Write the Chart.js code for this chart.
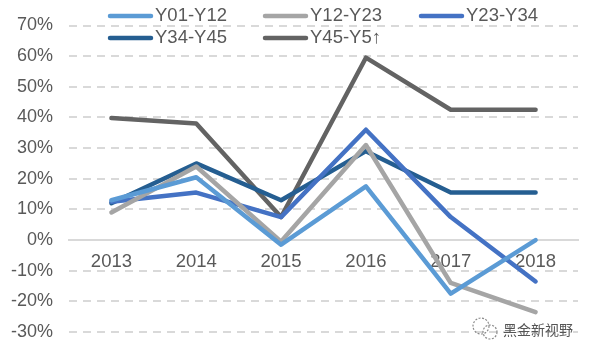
<!DOCTYPE html>
<html>
<head>
<meta charset="utf-8">
<style>
  html, body { margin: 0; padding: 0; background: #fff; }
  #wrap { width: 591px; height: 355px; }
</style>
<script src="https://cdn.jsdelivr.net/npm/chart.js@4/dist/chart.umd.js"></script>
</head>
<body>
<div id="wrap"><canvas id="chart" width="591" height="355"></canvas></div>
<script>
// Data
const years = ['2013', '2014', '2015', '2016', '2017', '2018'];
const seriesNames = ['Y01-Y12', 'Y12-Y23', 'Y23-Y34', 'Y34-Y45', 'Y45-Y5↑'];
const y01y12 = [13, 20.5, -1.5, 17.5, -17.5, 0];
const y12y23 = [9, 24, -0.5, 31, -14, -23.5];
const y23y34 = [12.5, 15.5, 7.5, 36, 7.5, -13.5];
const y34y45 = [12, 25, 13, 29, 15.5, 15.5];
const y45y5 = [39.8, 38, 7.5, 59.5, 42.5, 42.5];
const seriesValues = [y01y12, y12y23, y23y34, y34y45, y45y5];
const seriesColors = ['#5B9BD5', '#A5A5A5', '#4472C4', '#255E91', '#636363'];
const watermark = '黑金新视野';

const fontFamily = '"Liberation Sans", Arial, sans-serif';
const textColor = '#595959';

// Legend sits on top of the plot in two rows, so it is drawn by hand
const legendPlugin = {
    id: 'topLegend',
    afterDraw(chart) {
        const ctx = chart.ctx;
        const columns = [108, 263, 419];
        const rows = [16, 38];
        ctx.save();
        ctx.font = '18.5px ' + fontFamily;
        ctx.textBaseline = 'middle';
        chart.data.datasets.forEach((ds, i) => {
            const x = columns[i % 3];
            const y = rows[Math.floor(i / 3)];
            ctx.strokeStyle = ds.borderColor;
            ctx.lineWidth = 4.5;
            ctx.lineCap = 'round';
            ctx.beginPath();
            ctx.moveTo(x + 2, y);
            ctx.lineTo(x + 43, y);
            ctx.stroke();
            ctx.fillStyle = textColor;
            ctx.fillText(ds.label, x + 47, y);
        });
        ctx.restore();
    }
};

// Small watermark in the bottom right corner
const watermarkPlugin = {
    id: 'watermark',
    afterDraw(chart) {
        const ctx = chart.ctx;
        ctx.save();
        ctx.strokeStyle = '#8a8a8a';
        ctx.lineWidth = 1.2;
        ctx.setLineDash([2, 1.5]);
        ctx.beginPath();
        ctx.arc(481, 326, 8, 0, Math.PI * 2);
        ctx.stroke();
        ctx.beginPath();
        ctx.arc(490, 332, 7, 0, Math.PI * 2);
        ctx.stroke();
        ctx.fillStyle = '#555555';
        ctx.font = '14px "Noto Sans CJK SC", sans-serif';
        ctx.textBaseline = 'middle';
        ctx.fillText(watermark, 503, 330);
        ctx.restore();
    }
};

new Chart(document.getElementById('chart'), {
    type: 'line',
    data: {
        labels: years,
        datasets: seriesNames.map((name, i) => ({
            label: name,
            data: seriesValues[i],
            borderColor: seriesColors[i],
            backgroundColor: seriesColors[i],
            borderWidth: 4.5,
            borderCapStyle: 'round',
            borderJoinStyle: 'round',
            tension: 0,
            pointRadius: 0,
            fill: false
        }))
    },
    options: {
        responsive: false,
        animation: false,
        layout: { padding: { top: 25.5, right: 13, bottom: 23, left: 0 } },
        plugins: {
            legend: { display: false },
            tooltip: { enabled: false }
        },
        scales: {
            x: {
                position: { y: 0 },
                offset: true,
                afterFit(scale) { scale.height = 0; },
                grid: { display: false },
                border: { display: true, color: '#D9D9D9', width: 2 },
                ticks: {
                    color: textColor,
                    font: { family: fontFamily, size: 18.5 },
                    padding: 3,
                    maxRotation: 0
                }
            },
            y: {
                min: -30,
                max: 70,
                // tick padding counts into the label height, drop it so the area stays put
                afterFit(scale) {
                    scale.width = 69;
                    scale.paddingTop = 0;
                    scale.paddingBottom = 0;
                },
                grid: {
                    color: '#D9D9D9',
                    lineWidth: 2,
                    drawTicks: false
                },
                border: { display: false, dash: [8, 6] },
                ticks: {
                    stepSize: 10,
                    color: textColor,
                    font: { family: fontFamily, size: 18 },
                    padding: 16,
                    callback: v => v + '%'
                }
            }
        }
    },
    plugins: [legendPlugin, watermarkPlugin]
});
</script>
</body>
</html>
